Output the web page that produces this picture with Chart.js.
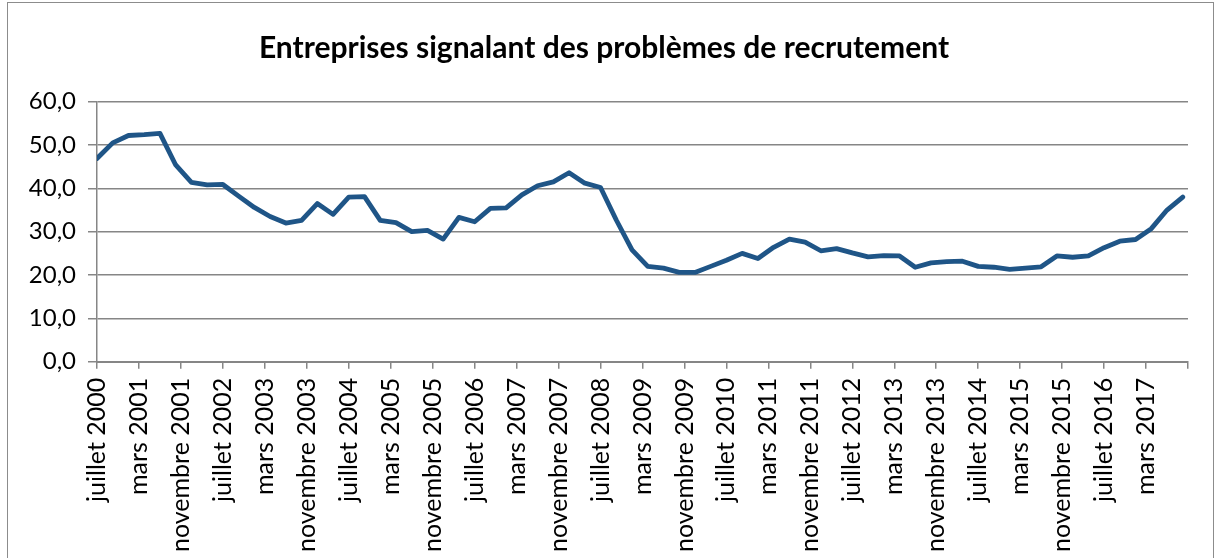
<!DOCTYPE html>
<html lang="fr">
<head>
<meta charset="utf-8">
<script src="https://cdn.jsdelivr.net/npm/chart.js@4"></script>
<style>
    html, body { margin: 0; padding: 0; background: #fff; overflow: hidden; }
    #wrap { position: relative; width: 1215px; height: 558px; }
    #frame { position: absolute; left: 7px; top: 2px; width: 1207px; height: 600px; border: 1px solid #8c8c8c; box-sizing: border-box; }
    canvas { position: absolute; left: 0; top: 0; }
</style>
</head>
<body>
<div id="wrap">
    <div id="frame"></div>
    <canvas id="myChart" width="1215" height="558"></canvas>
</div>
<script>
// Quarterly survey dates (year-month)
const quarters = [
    '2000-07', '2000-10',
    '2001-01', '2001-04', '2001-07', '2001-10',
    '2002-01', '2002-04', '2002-07', '2002-10',
    '2003-01', '2003-04', '2003-07', '2003-10',
    '2004-01', '2004-04', '2004-07', '2004-10',
    '2005-01', '2005-04', '2005-07', '2005-10',
    '2006-01', '2006-04', '2006-07', '2006-10',
    '2007-01', '2007-04', '2007-07', '2007-10',
    '2008-01', '2008-04', '2008-07', '2008-10',
    '2009-01', '2009-04', '2009-07', '2009-10',
    '2010-01', '2010-04', '2010-07', '2010-10',
    '2011-01', '2011-04', '2011-07', '2011-10',
    '2012-01', '2012-04', '2012-07', '2012-10',
    '2013-01', '2013-04', '2013-07', '2013-10',
    '2014-01', '2014-04', '2014-07', '2014-10',
    '2015-01', '2015-04', '2015-07', '2015-10',
    '2016-01', '2016-04', '2016-07', '2016-10',
    '2017-01', '2017-04', '2017-07', '2017-10'
];

// Share of firms reporting hiring difficulties (%)
const values = [
    46.9, 50.5,
    52.2, 52.4, 52.7, 45.4,
    41.4, 40.8, 40.9, 38.2,
    35.6, 33.5, 32.0, 32.6,
    36.5, 34.0, 38.0, 38.1,
    32.6, 32.1, 30.0, 30.3,
    28.3, 33.3, 32.3, 35.4,
    35.5, 38.5, 40.6, 41.5,
    43.6, 41.2, 40.2, 32.7,
    25.8, 22.0, 21.6, 20.6,
    20.6, 22.0, 23.4, 25.0,
    23.8, 26.4, 28.3, 27.6,
    25.6, 26.1, 25.1, 24.2,
    24.5, 24.4, 21.8, 22.8,
    23.1, 23.2, 22.0, 21.8,
    21.3, 21.6, 21.9, 24.4,
    24.1, 24.4, 26.3, 27.8,
    28.2, 30.7, 35.0, 38.0
];

// Axis labels, one every 8 months from juillet 2000 (last tick unlabeled)
const tickLabels = [
    'juillet 2000', 'mars 2001', 'novembre 2001', 'juillet 2002', 'mars 2003',
    'novembre 2003', 'juillet 2004', 'mars 2005', 'novembre 2005', 'juillet 2006',
    'mars 2007', 'novembre 2007', 'juillet 2008', 'mars 2009', 'novembre 2009',
    'juillet 2010', 'mars 2011', 'novembre 2011', 'juillet 2012', 'mars 2013',
    'novembre 2013', 'juillet 2014', 'mars 2015', 'novembre 2015', 'juillet 2016',
    'mars 2017', ''
];

// months elapsed since juillet 2000
function monthIndex(ym) {
    const [y, m] = ym.split('-').map(Number);
    return (y - 2000) * 12 + (m - 7);
}

const tickMonths = tickLabels.map((l, i) => i * 8);
const gridColor = '#868686';

const ctx = document.getElementById('myChart').getContext('2d');
const myChart = new Chart(ctx, {
    type: 'line',
    data: {
        datasets: [{
            label: 'Entreprises signalant des problèmes de recrutement',
            data: quarters.map((q, i) => ({ x: monthIndex(q), y: values[i] })),
            borderColor: '#1f5587',
            borderWidth: 4.8,
            pointRadius: 0,
            tension: 0,
            borderCapStyle: 'round',
            borderJoinStyle: 'round',
            fill: false
        }]
    },
    options: {
        responsive: false,
        animation: false,
        layout: { padding: { left: 20, right: 27, top: 0, bottom: 0 } },
        plugins: {
            legend: { display: false },
            tooltip: { enabled: false },
            title: {
                display: true,
                text: 'Entreprises signalant des problèmes de recrutement',
                font: { family: 'Lato', size: 30, weight: 'bold', lineHeight: 1.2 },
                color: '#000',
                padding: { top: 30, bottom: 35.7 }
            }
        },
        scales: {
            x: {
                type: 'linear',
                min: 0,
                max: 208,
                afterBuildTicks: scale => { scale.ticks = tickMonths.map(v => ({ value: v })); },
                afterFit: scale => {
                    scale.height = 196.3;
                    scale.paddingLeft = 0;
                    scale.paddingRight = 0;
                },
                grid: { drawOnChartArea: false, drawTicks: true, tickLength: 7, color: gridColor, lineWidth: 1.5 },
                border: { color: gridColor, width: 2 },
                ticks: {
                    autoSkip: false,
                    minRotation: 90,
                    maxRotation: 90,
                    padding: 9,
                    font: { family: 'Lato', size: 25 },
                    color: '#000',
                    callback: (v, i) => tickLabels[i] ?? ''
                }
            },
            y: {
                min: 0,
                max: 60,
                afterFit: scale => { scale.width = 77; },
                grid: { color: gridColor, lineWidth: 1.5, tickLength: 9 },
                border: { color: gridColor, width: 1.5 },
                ticks: {
                    stepSize: 10,
                    padding: 12,
                    font: { family: 'Lato', size: 24 },
                    color: '#000',
                    callback: v => v.toFixed(1).replace('.', ',')
                }
            }
        }
    }
});
</script>
</body>
</html>
